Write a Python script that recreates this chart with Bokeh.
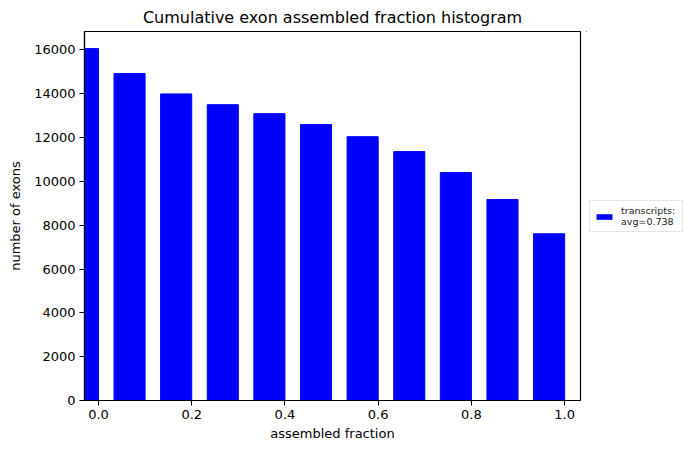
from bokeh.plotting import figure
from bokeh.layouts import row
from bokeh.models import Range1d, FixedTicker, Legend, LegendItem, CustomJSTickFormatter
from bokeh.transform import dodge
from bokeh.embed import file_html
from bokeh.resources import INLINE

bin_right = [0.0, 0.1, 0.2, 0.3, 0.4, 0.5, 0.6, 0.7, 0.8, 0.9, 1.0]
exon_counts = [16060, 14920, 13990, 13500, 13090, 12590, 12040, 11360, 10400, 9170, 7610]
x_ticks = [0.0, 0.2, 0.4, 0.6, 0.8, 1.0]
y_ticks = [0, 2000, 4000, 6000, 8000, 10000, 12000, 14000, 16000]
legend_label = "transcripts:\navg=0.738"
bar_width = 0.0667
BAR_COLOR = "#0000ff"

FONT = "DejaVu Sans"

p = figure(width=586, height=450, output_backend="svg", toolbar_location=None,
           x_range=Range1d(-0.030, 1.034), y_range=Range1d(0, 16840),
           title="Cumulative exon assembled fraction histogram",
           min_border_left=84, min_border_bottom=50, min_border_top=8, min_border_right=6)

src = dict(x=bin_right, top=exon_counts)
p.vbar(x=dodge("x", -bar_width / 2), top="top", width=bar_width, color=BAR_COLOR, source=src)

p.title.align = "center"
p.title.text_font = FONT
p.title.text_font_size = "16px"
p.title.text_font_style = "normal"
p.title.text_color = "black"

p.xgrid.visible = False
p.ygrid.visible = False
p.outline_line_color = "black"
p.outline_line_width = 1.2
p.outline_line_alpha = 1

for ax in (p.xaxis[0], p.yaxis[0]):
    ax.axis_line_color = "black"
    ax.axis_line_width = 1.2
    ax.major_tick_line_color = "black"
    ax.major_tick_out = 5
    ax.major_tick_in = 0
    ax.minor_tick_line_color = None
    ax.major_label_text_font = FONT
    ax.major_label_text_font_size = "13px"
    ax.major_label_text_color = "black"
    ax.axis_label_text_font = FONT
    ax.axis_label_text_font_size = "13px"
    ax.axis_label_text_font_style = "normal"
    ax.axis_label_text_color = "black"

p.xaxis.ticker = FixedTicker(ticks=x_ticks)
p.xaxis.formatter = CustomJSTickFormatter(code="return tick.toFixed(1);")
p.yaxis.ticker = FixedTicker(ticks=y_ticks)
p.xaxis.axis_label = "assembled fraction"
p.yaxis.axis_label = "number of exons"
p.xaxis.major_label_standoff = 4
p.yaxis.major_label_standoff = 4
p.xaxis.axis_label_standoff = 4
p.yaxis.axis_label_standoff = 8

# legend lives in a narrow companion figure to the right of the plot;
# its key renderer uses the same data but lies well outside that figure's view
lg = figure(width=99, height=450, output_backend="svg", toolbar_location=None,
            x_range=Range1d(5, 6), y_range=Range1d(-200000, -100000),
            min_border_left=0, min_border_right=0, min_border_top=0, min_border_bottom=0)
lg.axis.visible = False
lg.grid.visible = False
lg.outline_line_color = None
lg.background_fill_color = "white"
lg.border_fill_color = "white"
key = lg.vbar(x="x", top="top", width=bar_width, fill_color=BAR_COLOR, line_color=None, source=src)

legend = Legend(items=[LegendItem(label=legend_label, renderers=[key])],
                location=(3, 168),
                label_text_font=FONT, label_text_font_size="9.5px", label_text_line_height=1.15,
                label_text_color="#222222", label_width=57,
                glyph_width=20, glyph_height=7, border_line_color="#cccccc", border_line_width=1,
                padding=4, spacing=0, label_standoff=7, margin=0)
lg.add_layout(legend, "center")

layout = row(p, lg, spacing=0)
open("out.html", "w").write(file_html(layout, INLINE))
